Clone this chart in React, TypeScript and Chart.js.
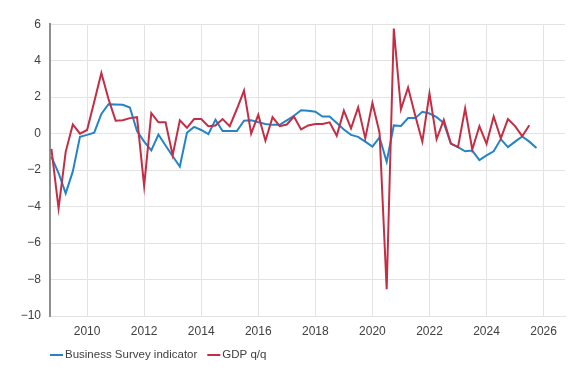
import React, { useEffect, useRef } from "react";
import { Chart, registerables } from "chart.js";

Chart.register(...registerables);

const firstQuarter = 2008.75; // Q4 2008
const quarterStep = 0.25;

const surveySeries = [
  -1.27, -2.16, -3.27, -2.07, -0.18, -0.07, 0.05, 1.08, 1.61, 1.6, 1.58, 1.43,
  0.14, -0.44, -0.92, -0.05, -0.65, -1.24, -1.8, 0.05, 0.37, 0.2, -0.03, 0.76,
  0.14, 0.14, 0.14, 0.71, 0.73, 0.62, 0.53, 0.48, 0.48, 0.73, 0.98, 1.28,
  1.25, 1.2, 0.94, 0.94, 0.58, 0.23, -0.07, -0.18, -0.44, -0.71, -0.21, -1.54,
  0.45, 0.42, 0.85, 0.85, 1.2, 1.1, 0.9, 0.58, -0.55, -0.74, -0.97, -0.93,
  -1.45, -1.19, -0.97, -0.3, -0.74, -0.44, -0.16, -0.44, -0.79,
];

const gdpSeries = [
  -0.83, -4.1, -1.0, 0.5, 0.0, 0.2, 1.75, 3.33, 1.9, 0.71, 0.73, 0.85,
  0.9, -2.87, 1.12, 0.62, 0.62, -1.18, 0.73, 0.32, 0.8, 0.8, 0.41, 0.44,
  0.8, 0.41, 1.35, 2.36, 0.0, 1.03, -0.39, 0.9, 0.41, 0.5, 0.94, 0.23,
  0.45, 0.53, 0.53, 0.62, -0.12, 1.26, 0.29, 1.44, -0.26, 1.68, 0.05, -8.53,
  5.76, 1.33, 2.53, 1.0, -0.44, 2.2, -0.3, 0.75, -0.55, -0.74, 1.38, -0.87,
  0.41, -0.56, 0.94, -0.26, 0.8, 0.41, -0.14, 0.46,
];

const xTickYears = [2010, 2012, 2014, 2016, 2018, 2020, 2022, 2024, 2026];
const yMin = -10;
const yMax = 6;
const yStep = 2;

const seriesLabels = ["Business Survey indicator", "GDP q/q"];
const seriesColors = ["#2384c8", "#c42d44"];

const toPoints = (vals: number[]) =>
  vals.map((v, i) => ({ x: firstQuarter + i * quarterStep, y: v }));

const FONT = "'Liberation Sans', Arial, sans-serif";
const TEXT = "#404040";

const legendPlugin = {
  id: "customLegend",
  afterDraw(chart: any) {
    const ctx = chart.ctx;
    const area = chart.chartArea;
    const y = 347;
    let x = area.left;
    ctx.save();
    ctx.font = `11.5px ${FONT}`;
    ctx.textBaseline = "middle";
    ctx.textAlign = "left";
    chart.data.datasets.forEach((ds: any) => {
      ctx.strokeStyle = ds.borderColor;
      ctx.lineWidth = 2;
      ctx.beginPath();
      ctx.moveTo(x, y);
      ctx.lineTo(x + 13, y);
      ctx.stroke();
      ctx.fillStyle = TEXT;
      ctx.fillText(ds.label, x + 15, y);
      x += 15 + ctx.measureText(ds.label).width + 10;
    });
    ctx.restore();
  },
};

export default function App() {
  const ref = useRef<HTMLCanvasElement>(null);
  useEffect(() => {
    if (!ref.current) return;
    const chart = new Chart(ref.current, {
      type: "line",
      data: {
        datasets: [
          {
            label: seriesLabels[0],
            data: toPoints(surveySeries),
            borderColor: seriesColors[0],
            backgroundColor: seriesColors[0],
            borderWidth: 2,
            pointRadius: 0,
            tension: 0,
            order: 1,
          },
          {
            label: seriesLabels[1],
            data: toPoints(gdpSeries),
            borderColor: seriesColors[1],
            backgroundColor: seriesColors[1],
            borderWidth: 2,
            pointRadius: 0,
            tension: 0,
            order: 0,
          },
        ],
      },
      options: {
        animation: false,
        responsive: false,
        devicePixelRatio: 1,
        layout: { padding: { top: 7, right: 7, bottom: 24, left: 0 } },
        plugins: {
          legend: { display: false },
          tooltip: { enabled: false },
        },
        scales: {
          x: {
            type: "linear",
            min: 2008.7,
            max: 2026.75,
            afterBuildTicks: (s: any) => {
              s.ticks = xTickYears.map((v) => ({ value: v }));
            },
            afterFit: (s: any) => {
              s.height = 22;
            },
            ticks: {
              autoSkip: false,
              maxRotation: 0,
              padding: 8,
              color: TEXT,
              font: { family: FONT, size: 12 },
              callback: (v: any) => String(v),
            },
            grid: { color: "#e3e3e3", drawTicks: false },
            border: { color: "#e3e3e3" },
          },
          y: {
            min: yMin,
            max: yMax,
            afterFit: (s: any) => {
              s.width = 42;
            },
            ticks: {
              stepSize: yStep,
              padding: 9,
              color: TEXT,
              font: { family: FONT, size: 12 },
              callback: (v: any) =>
                Number(v) < 0 ? "\u2212" + Math.abs(Number(v)) : String(v),
            },
            grid: { color: "#e3e3e3", drawTicks: false },
            border: { color: "#8f8f8f", width: 2 },
          },
        },
      },
      plugins: [legendPlugin],
    });
    return () => chart.destroy();
  }, []);
  return (
    <div style={{ width: 564, height: 354 }}>
      <canvas ref={ref} width={564} height={354} style={{ display: "block" }} />
    </div>
  );
}
